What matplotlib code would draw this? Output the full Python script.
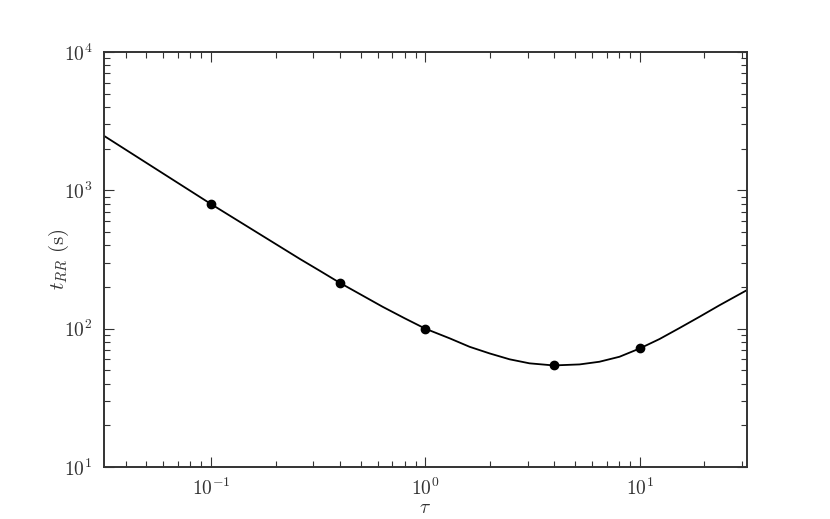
import math
import matplotlib
matplotlib.use('Agg')
import matplotlib.pyplot as plt
from matplotlib.ticker import LogLocator, FuncFormatter, NullFormatter

plt.rcParams['mathtext.fontset'] = 'cm'
plt.rcParams['font.family'] = 'serif'
plt.rcParams['font.serif'] = ['DejaVu Serif']

# curve
tau_curve = [0.0316, 0.1, 0.26, 0.322, 0.4, 0.632, 0.8, 1.0, 1.298,
             1.608, 1.992, 2.47, 3.06, 3.79, 4.0, 5.24, 6.48, 8.04, 10.0,
             12.36, 15.3, 19.0, 23.5, 31.6]
t_curve = [2483, 796, 319, 262, 214, 144, 119, 100, 85.2,
           74.0, 66.3, 60.1, 56.2, 54.6, 54.3, 55.2, 57.7, 62.7, 72,
           84.2, 101, 122, 147.5, 190]

# marked points
tau_pts = [0.1, 0.4, 1.0, 4.0, 10.0]
t_pts = [796, 214, 100, 54.3, 72]


def sci(v, pos):
    e = int(round(math.log10(v)))
    return r'$10^{%d}$' % e


fig = plt.figure(figsize=(8.3, 5.19), dpi=100)
ax = fig.add_axes([0.125, 0.1, 0.775, 0.8])

ax.plot(tau_curve, t_curve, '-', color='black', lw=1.3)
ax.plot(tau_pts, t_pts, 'o', color='black', ms=6)

ax.set_xscale('log')
ax.set_yscale('log')
ax.set_xlim(10 ** -1.5, 10 ** 1.5)
ax.set_ylim(10, 1e4)

for axis in (ax.xaxis, ax.yaxis):
    axis.set_major_locator(LogLocator(base=10))
    axis.set_minor_locator(LogLocator(base=10, subs=range(2, 10)))
    axis.set_major_formatter(FuncFormatter(sci))
    axis.set_minor_formatter(NullFormatter())

ax.tick_params(which='both', direction='in', top=True, right=True,
               labelsize=14, colors='#333333', labelcolor='#333333')
ax.tick_params(which='major', length=7, width=0.8, pad=8)
ax.tick_params(which='minor', length=4, width=0.8)
for s in ax.spines.values():
    s.set_linewidth(1.4)
    s.set_color('#333333')

ax.set_xlabel(r'$\tau$', fontsize=14, labelpad=0, color='#333333')
ax.set_ylabel(r'$t_{RR}\ \mathrm{(s)}$', fontsize=15, labelpad=-5, color='#333333')

fig.savefig('out.png', dpi=100)
